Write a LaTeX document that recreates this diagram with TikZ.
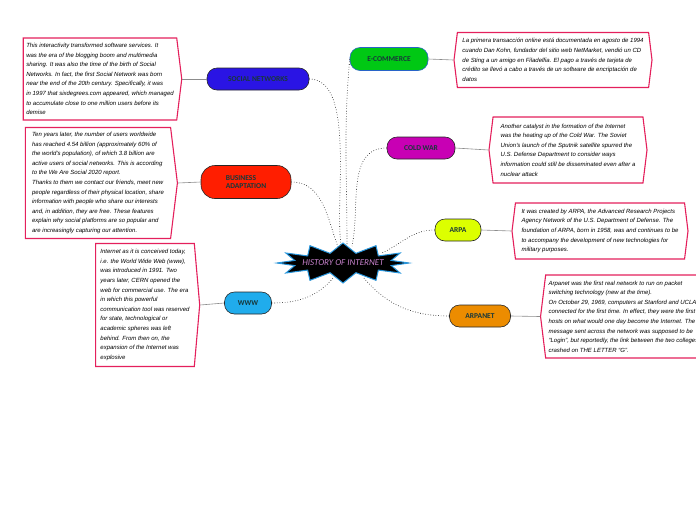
\documentclass[tikz,border=0pt]{standalone}
\usepackage{fontspec}
\setmainfont{Carlito}
\newfontfamily\notefont{Liberation Sans}
\usetikzlibrary{shapes.symbols, calc}

\definecolor{notered}{RGB}{228,32,92}
\definecolor{labelink}{RGB}{24,56,58}
\definecolor{hubline}{RGB}{40,150,220}
\definecolor{hubtext}{RGB}{200,130,205}
\definecolor{socfill}{RGB}{42,20,228}
\definecolor{ecomfill}{RGB}{0,200,20}
\definecolor{ecomline}{RGB}{40,100,200}
\definecolor{busfill}{RGB}{255,30,0}
\definecolor{coldfill}{RGB}{200,0,180}
\definecolor{arpafill}{RGB}{220,255,0}
\definecolor{netfill}{RGB}{236,140,0}
\definecolor{wwwfill}{RGB}{32,172,236}

\begin{document}
\begin{tikzpicture}[
  x=1pt, y=1pt,
  topic/.style={draw=black!85, rounded corners=10pt, minimum height=22pt, inner sep=2pt,
                line width=0.6pt, text=labelink, align=left,
                font=\bfseries\fontsize{7.5}{8.5}\selectfont},
  note/.style={shape=signal, draw=notered, line width=1.1pt, fill=white, align=left,
               inner sep=3pt, signal pointer angle=166,
               font=\notefont\itshape\fontsize{6}{9.6}\selectfont},
  hub/.style={text=hubtext, inner sep=1pt, font=\itshape\fontsize{9}{10}\selectfont},
  tie/.style={draw=black!45, line width=0.6pt},
  link/.style={dotted, line width=0.6pt}
]
  \useasboundingbox (0,0) rectangle (696,-520);

  % centre
  \coordinate (hc) at (343,-263);
  \filldraw[fill=black, draw=hubline, line width=1pt] ($(hc)+(0:66pt and 20pt)$)
    \foreach \k [evaluate=\k as \rx using {mod(\k,2)==1 ? 50 : 66},
                 evaluate=\k as \ry using {mod(\k,2)==1 ? 10 : 20}] in {1,...,23}
      { -- ($(hc)+(\k*15:\rx pt and \ry pt)$) } -- cycle;
  \node[hub] (hist) at (hc) {HISTORY OF INTERNET};

  % topics
  \node[topic, fill=socfill, minimum width=102pt]           (soc)  at (258,-79)  {SOCIAL NETWORKS};
  \node[topic, fill=ecomfill, draw=ecomline, minimum width=78pt, minimum height=23pt] (ecom) at (389,-59) {E-COMMERCE};
  \node[topic, fill=busfill, minimum width=90pt, minimum height=33pt, rounded corners=14pt] (bus) at (246,-182) {BUSINESS\\ADAPTATION};
  \node[topic, fill=coldfill, minimum width=68pt]           (cold) at (421,-148) {COLD WAR};
  \node[topic, fill=arpafill, minimum width=46pt]           (arpa) at (458,-230) {ARPA};
  \node[topic, fill=netfill, minimum width=61pt]            (net)  at (480,-316) {ARPANET};
  \node[topic, fill=wwwfill, minimum width=47pt]            (www)  at (248,-303) {WWW};

  % notes
  \node[note, signal to=east, minimum width=156pt, minimum height=82pt] (socnote) at (100,-79)
    {This interactivity transformed software services. It\\
     was the era of the blogging boom and multimedia\\
     sharing. It was also the time of the birth of Social\\
     Networks. In fact, the first Social Network was born\\
     near the end of the 20th century. Specifically, it was\\
     in 1997 that sixdegrees.com appeared, which managed\\
     to accumulate close to one million users before its\\
     demise};
  \node[note, signal to=east, minimum width=152pt, minimum height=111pt] (busnote) at (98,-183)
    {Ten years later, the number of users worldwide\\
     has reached 4.54 billion (approximately 60\% of\\
     the world's population), of which 3.8 billion are\\
     active users of social networks. This is according\\
     to the We Are Social 2020 report.\\
     Thanks to them we contact our friends, meet new\\
     people regardless of their physical location, share\\
     information with people who share our interests\\
     and, in addition, they are free. These features\\
     explain why social platforms are so popular and\\
     are increasingly capturing our attention.};
  \node[note, signal to=east, minimum width=104pt, minimum height=123pt, signal pointer angle=170] (wwwnote) at (145,-305)
    {Internet as it is conceived today,\\
     i.e. the World Wide Web (www),\\
     was introduced in 1991. Two\\
     years later, CERN opened the\\
     web for commercial use. The era\\
     in which this powerful\\
     communication tool was reserved\\
     for state, technological or\\
     academic spheres was left\\
     behind. From then on, the\\
     expansion of the Internet was\\
     explosive};
  \node[note, signal to=west and east, minimum width=198pt, minimum height=55pt] (ecomnote) at (553,-60)
    {La primera transacción online está documentada en agosto de 1994\\
     cuando Dan Kohn, fundador del sitio web NetMarket, vendió un CD\\
     de Sting a un amigo en Filadelfia. El pago a través de tarjeta de\\
     crédito se llevó a cabo a través de un software de encriptación de\\
     datos};
  \node[note, signal to=west and east, minimum width=158pt, minimum height=66pt] (coldnote) at (568,-150)
    {Another catalyst in the formation of the Internet\\
     was the heating up of the Cold War. The Soviet\\
     Union's launch of the Sputnik satellite spurred the\\
     U.S. Defense Department to consider ways\\
     information could still be disseminated even after a\\
     nuclear attack};
  \node[note, signal to=west and east, minimum width=176pt, minimum height=56pt] (arpanote) at (600,-231)
    {It was created by ARPA, the Advanced Research Projects\\
     Agency Network of the U.S. Department of Defense. The\\
     foundation of ARPA, born in 1958, was and continues to be\\
     to accompany the development of new technologies for\\
     military purposes.};
  \node[note, signal to=west, minimum height=83pt, anchor=west] (netnote) at (540,-316.5)
    {Arpanet was the first real network to run on packet\\
     switching technology (new at the time).\\
     On October 29, 1969, computers at Stanford and UCLA\\
     connected for the first time. In effect, they were the first\\
     hosts on what would one day become the Internet. The first\\
     message sent across the network was supposed to be\\
     “Login”, but reportedly, the link between the two colleges\\
     crashed on THE LETTER “G”.};

  % ties to notes
  \draw[tie] (socnote.east)  -- (soc.west);
  \draw[tie] (busnote.east)  -- (bus.west);
  \draw[tie] (wwwnote.east)  -- (www.west);
  \draw[tie] (ecom.east) -- (ecomnote.west);
  \draw[tie] (cold.east) -- (coldnote.west);
  \draw[tie] (arpa.east) -- (arpanote.west);
  \draw[tie] (net.east)  -- (netnote.west);

  % branches from the centre
  \coordinate (hs) at ($(hist)+(-2,18)$);
  \coordinate (he) at ($(hist)+(4,18)$);
  \coordinate (hb) at ($(hist)+(-5,16)$);
  \coordinate (hw) at ($(hist)+(9,17)$);
  \coordinate (ha) at ($(hist)+(39,10)$);
  \coordinate (hn) at ($(hist)+(20,-14)$);
  \coordinate (hv) at ($(hist)+(-9,-14)$);
  \draw[link] (soc.east)  to[out=0, in=98, looseness=0.7] (hs);
  \draw[link] (ecom.west) to[out=-95, in=90] (he);
  \draw[link] (bus.east)  to[out=0, in=110] (hb);
  \draw[link] (cold.west) to[out=180, in=78] (hw);
  \draw[link] (arpa.west) to[out=180, in=25] (ha);
  \draw[link] (net.west)  to[out=180, in=-50] (hn);
  \draw[link] (www.east)  to[out=0, in=-130] (hv);
\end{tikzpicture}
\end{document}
